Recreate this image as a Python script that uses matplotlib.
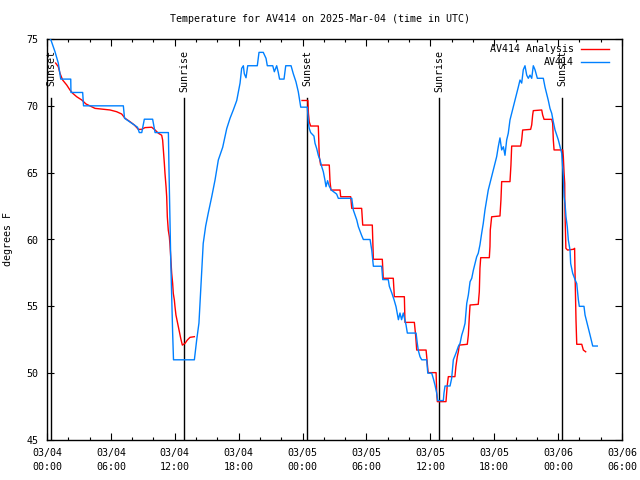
import numpy as np
import matplotlib
matplotlib.use("Agg")
import matplotlib.pyplot as plt

# hours since 2025-03-04 00:00 UTC
obs_t = [0.0, 0.38, 0.75, 1.06, 1.29, 2.23, 2.25, 3.35, 3.43, 7.17, 7.28, 8.5, 8.67, 8.9, 9.14, 9.92,
         10.15, 11.4, 11.45, 11.55, 11.62, 11.7, 11.8, 11.88, 13.84,
         14.06, 14.27, 14.37, 14.53, 14.67, 14.9, 15.15, 15.47, 15.78, 16.09, 16.5, 16.88, 17.19, 17.5,
         17.82, 18.13, 18.28, 18.44, 18.53, 18.69, 18.85, 19.75, 19.91, 20.31, 20.57, 20.69, 21.2,
         21.35, 21.57, 21.72, 21.84, 22.26, 22.42, 22.92, 23.13, 23.38, 23.6, 23.83,
         24.45, 24.5, 24.55, 24.63, 24.76, 25.07, 25.17, 25.33, 25.48, 25.64, 25.8, 25.95, 26.1, 26.2,
         26.35, 26.5, 26.7, 27.2, 27.36, 28.62, 28.77, 29.09, 29.24, 29.55, 29.71, 30.34, 30.5, 30.59,
         30.65, 31.43, 31.53, 32.05, 32.15, 32.38, 32.59, 32.78, 33.0, 33.15, 33.3, 33.46, 33.72, 33.84,
         34.66, 34.78, 34.87, 35.03, 35.19, 35.66, 35.76, 36.13, 36.28, 36.44, 36.6, 36.69, 37.22,
         37.28, 37.38, 37.85, 38.0, 38.16, 38.41, 38.63, 38.79, 38.95, 39.1, 39.26, 39.42, 39.57, 39.73,
         39.89, 40.04, 40.2, 40.35, 40.5, 40.66, 40.82, 40.97, 41.13, 41.29, 41.44, 41.6, 41.76, 41.91,
         42.07, 42.23, 42.38, 42.54, 42.7, 42.86, 43.01, 43.17, 43.32, 43.48, 43.64, 43.79, 43.95,
         44.11, 44.26, 44.42, 44.58, 44.73, 44.89, 45.05, 45.2, 45.36, 45.52, 45.67, 45.83, 46.05,
         46.61, 46.77, 46.93, 47.08, 47.24, 47.4, 47.55, 47.71, 47.87, 48.02, 48.18, 48.34, 48.49,
         48.56, 48.65, 48.74, 48.86, 48.96, 49.12, 49.18, 49.37, 49.59, 49.75, 49.9, 49.99, 50.43,
         50.53, 50.69, 50.84, 51.0, 51.15, 51.25, 51.68]
obs_T = [75.4, 74.9, 74.05, 73.2, 72.0, 72.0, 71.0, 71.0, 70.0, 70.0, 69.07, 68.4, 68.0, 68.0, 69.0, 69.0,
         68.0, 68.0, 65.5, 61.5, 58.5, 56.0, 53.0, 51.0, 51.0,
         52.5, 53.75, 55.2, 57.5, 59.7, 61.0, 62.0, 63.2, 64.45, 65.95, 66.9, 68.3, 69.07, 69.7,
         70.4, 71.7, 72.8, 73.0, 72.4, 72.1, 73.0, 73.0, 74.0, 74.0, 73.55, 73.0, 73.0,
         72.55, 73.0, 72.5, 72.0, 72.0, 73.0, 73.0, 72.4, 71.8, 71.05, 69.9,
         69.9, 69.3, 68.7, 68.3, 68.0, 67.74, 67.2, 66.8, 66.3, 65.95, 65.45, 65.07, 64.45, 63.95,
         64.4, 64.0, 63.7, 63.4, 63.08, 63.08, 62.2, 61.46, 60.96, 60.3, 60.0, 60.0, 59.2, 58.47,
         58.0, 58.0, 57.0, 57.0, 56.5, 56.0, 55.5, 54.97, 54.0, 54.5, 54.0, 54.5, 53.6, 53.0,
         53.0, 52.2, 51.7, 51.23, 51.0, 51.0, 50.0, 50.0, 49.6, 49.1, 48.5, 47.95, 47.95,
         48.5, 49.04, 49.04, 49.6, 51.0, 51.5, 52.0, 52.23, 52.85, 53.23, 53.73, 55.23, 55.85, 56.84,
         57.1, 57.7, 58.2, 58.7, 58.97, 59.6, 60.46, 61.2, 62.2, 62.95, 63.7, 64.2, 64.7, 65.2,
         65.7, 66.2, 66.94, 67.6, 66.7, 66.94, 66.3, 67.45, 67.95, 68.94, 69.44, 69.94, 70.4,
         70.9, 71.4, 71.93, 71.7, 72.7, 73.0, 72.3, 72.06, 72.3, 72.06, 73.0, 72.7, 72.06,
         72.06, 71.4, 70.9, 70.4, 69.8, 69.44, 68.8, 68.2, 67.8, 67.45, 66.94, 66.45, 64.7,
         63.2, 62.7, 61.7, 60.96, 59.96, 59.2, 58.2, 57.47, 57.0, 56.7, 55.5, 55.0, 55.0,
         54.35, 53.85, 53.36, 52.85, 52.35, 52.03, 52.03]

ana_t = [0.81, 1.06, 1.22, 1.47, 1.85, 2.16, 2.41, 2.79, 3.26, 3.66, 4.04, 4.51, 5.29, 5.92, 6.54, 7.01,
         7.33, 7.8, 8.2, 8.58, 8.89, 9.2, 9.83, 10.14, 10.46, 10.77, 10.86, 10.93, 11.02, 11.08, 11.18,
         11.24, 11.3, 11.39, 11.49, 11.55, 11.65, 11.71, 11.8, 11.86, 11.96, 12.02, 12.11, 12.24, 12.33,
         12.43, 12.56, 12.71, 12.96, 13.18, 13.43, 13.84,
         np.nan,
         23.95, 24.5, 24.55, 24.63, 24.76, 25.48, 25.57, 25.7, 26.51, 26.58, 26.67, 27.52, 27.58, 28.52,
         28.62, 29.55, 29.65, 30.55, 30.65, 31.49, 31.58, 32.52, 32.62, 33.56, 33.62, 34.5, 34.63, 34.72,
         35.6, 35.66, 35.79, 36.54, 36.6, 36.66, 37.47, 37.53, 37.59, 37.69, 38.31, 38.4, 38.53, 38.63,
         38.72, 39.47, 39.57, 39.66, 39.73, 40.5, 40.6, 40.66, 40.73, 41.54, 41.6, 41.63, 41.76, 42.54,
         42.63, 42.7, 43.48, 43.57, 43.64, 44.48, 44.58, 44.67, 45.42, 45.52, 45.61, 45.67, 46.46, 46.55,
         46.68, 47.4, 47.49, 47.55, 47.62, 48.43, 48.49, 48.56, 48.62, 48.63, 48.67, 48.73, 48.89, 49.45,
         49.55, 49.59, 49.68, 49.75, 50.22, 50.37, 50.59]
ana_T = [73.2, 72.93, 72.43, 71.93, 71.56, 71.18, 70.94, 70.68, 70.44, 70.14, 69.99, 69.81, 69.74, 69.69,
         69.56, 69.39, 69.07, 68.81, 68.57, 68.24, 68.24, 68.37, 68.4, 68.2, 67.95, 67.8, 67.44, 66.7,
         65.7, 64.95, 63.95, 63.2, 61.7, 60.7, 60.2, 59.6, 58.34, 57.47, 56.72, 55.97, 55.47, 54.97,
         54.35, 53.85, 53.47, 53.1, 52.6, 52.1, 52.23, 52.48, 52.68, 52.73,
         np.nan,
         70.4, 70.4, 69.44, 68.8, 68.49, 68.49, 66.2, 65.57, 65.57, 64.33, 63.7, 63.7, 63.2, 63.2,
         62.33, 62.33, 61.08, 61.08, 58.52, 58.52, 57.1, 57.1, 55.72, 55.72, 53.8, 53.8, 52.73, 51.73,
         51.73, 51.23, 50.04, 50.04, 48.5, 47.87, 47.87, 48.5, 49.1, 49.74, 49.74, 50.5, 51.23, 51.6,
         52.1, 52.16, 52.85, 54.22, 55.1, 55.15, 56.1, 57.85, 58.64, 58.64, 59.46, 60.71, 61.7, 61.76,
         62.95, 64.33, 64.33, 65.57, 66.99, 66.99, 67.44, 68.19, 68.24, 68.57, 69.31, 69.64, 69.69, 69.31,
         68.99, 68.99, 68.69, 67.44, 66.7, 66.7, 66.2, 64.95, 64.2, 62.71, 61.2, 59.34, 59.21, 59.27,
         59.34, 57.47, 53.98, 52.16, 52.16, 51.73, 51.6]

sun_t = [0.38, 12.89, 24.45, 36.84, 48.39]
sun_labels = ["Sunset", "Sunrise", "Sunset", "Sunrise", "Sunset"]

xtick_hours = [0, 6, 12, 18, 24, 30, 36, 42, 48, 54]
xtick_labels = ["03/04\n00:00", "03/04\n06:00", "03/04\n12:00", "03/04\n18:00", "03/05\n00:00",
                "03/05\n06:00", "03/05\n12:00", "03/05\n18:00", "03/06\n00:00", "03/06\n06:00"]
yticks = [45, 50, 55, 60, 65, 70, 75]

plt.rcParams['font.family'] = ['DejaVu Sans Mono']
FS = 7.2

fig = plt.figure(figsize=(6.4, 4.8), dpi=100)
ax = fig.add_axes([47/640, 1 - 440/480, 575/640, 401/480])

ax.plot(ana_t, ana_T, color='#ff0000', lw=1.0, zorder=3)
ax.plot(obs_t, obs_T, color='#0080ff', lw=1.0, zorder=4)

for t, lab in zip(sun_t, sun_labels):
    ax.axvline(t, ymin=0, ymax=0.853, color='black', lw=1.0, zorder=2)
    ax.text(t, 0.973, lab, transform=ax.get_xaxis_transform(), rotation=90,
            ha='center', va='top', fontsize=FS, zorder=5)

ax.set_xlim(0, 54)
ax.set_ylim(45, 75)
ax.set_xticks(xtick_hours)
ax.set_xticklabels(xtick_labels, fontsize=FS, linespacing=1.5)
ax.set_xticks(np.arange(0, 55, 2), minor=True)
ax.set_yticks(yticks)
ax.set_yticklabels([str(v) for v in yticks], fontsize=FS)
ax.tick_params(axis='both', which='major', direction='in', length=5, width=0.8,
               top=True, right=True, pad=6)
ax.tick_params(axis='x', which='minor', direction='in', length=2.5, width=0.8, top=True)
for s in ax.spines.values():
    s.set_linewidth(1.0)

ax.set_ylabel("degrees F", fontsize=FS, labelpad=10)
fig.text(0.5, 1 - 19/480, "Temperature for AV414 on 2025-Mar-04 (time in UTC)",
         ha='center', va='center', fontsize=FS)

# legend (top right, gnuplot style)
leg_items = [("AV414 Analysis", '#ff0000'), ("AV414", '#0080ff')]
for i, (lab, col) in enumerate(leg_items):
    yy = (440 - 49 - 13 * i) / 401
    ax.text((574 - 47) / 575, yy, lab, transform=ax.transAxes, ha='right', va='center',
            fontsize=FS, zorder=6)
    ax.plot([(581 - 47) / 575, (609 - 47) / 575], [yy, yy], transform=ax.transAxes,
            color=col, lw=1.0, zorder=6, clip_on=False)

fig.savefig("out.png", dpi=100)
